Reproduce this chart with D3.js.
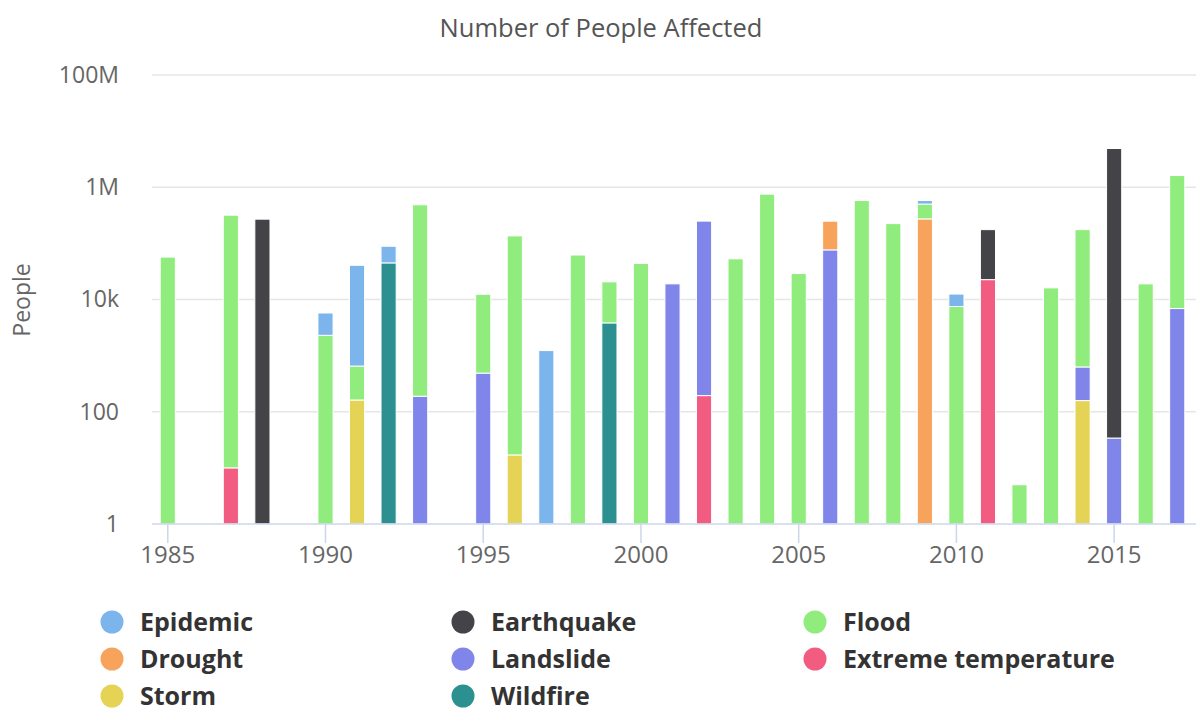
<!DOCTYPE html>
<meta charset="utf-8">
<style>
body { margin: 0; background: #fff; }
text { font-family: "Open Sans", sans-serif; }
</style>
<svg id="mysvg" width="1196" height="708"></svg>
<script src="https://cdn.jsdelivr.net/npm/d3@7/dist/d3.min.js"></script>
<script>

var svg = d3.select("#mysvg");

var years = d3.range(1985, 2018);
var yearTicks = [1985, 1990, 1995, 2000, 2005, 2010, 2015];
var peopleTicks = [1, 100, 10000, 1000000, 100000000];
var peopleTickLabels = ["1", "100", "10k", "1M", "100M"];

// series order = legend order; Highcharts stacks the first series on top
var seriesNames = ["Epidemic", "Earthquake", "Flood", "Drought", "Landslide", "Extreme temperature", "Storm", "Wildfire"];
var seriesColors = ["#7cb5ec", "#434348", "#90ed7d", "#f7a35c", "#8085e9", "#f15c80", "#e4d354", "#2b908f"];

// values per series as [year, people]
var epidemic = [[1990, 3450], [1991, 40000], [1992, 44000], [1997, 1230], [2009, 79000], [2010, 5000]];
var earthquake = [[1988, 270000], [2011, 153000], [2015, 4900000]];
var flood = [[1985, 57000], [1987, 318000], [1990, 2300], [1991, 490], [1993, 487000], [1995, 11900],
	[1996, 136000], [1998, 62000], [1999, 16800], [2000, 44000], [2003, 53000], [2004, 754000],
	[2005, 29000], [2007, 580000], [2008, 225000], [2009, 228000], [2010, 7500], [2012, 5],
	[2013, 16100], [2014, 175000], [2016, 19000], [2017, 1610000]];
var drought = [[2006, 172000], [2009, 273000]];
var landslide = [[1993, 189], [1995, 488], [2001, 19000], [2002, 249000], [2006, 76600], [2014, 470], [2015, 34], [2017, 6900]];
var extremeTemp = [[1987, 10], [2002, 194], [2011, 22600]];
var storm = [[1991, 162], [1996, 17], [2014, 158]];
var wildfire = [[1992, 44900], [1999, 3830]];

var seriesValues = [epidemic, earthquake, flood, drought, landslide, extremeTemp, storm, wildfire];

// build one row per year for d3.stack
var rows = years.map(function(yr){
	var r = { year: yr };
	seriesNames.forEach(function(name, i){
		var hit = seriesValues[i].find(function(p){ return p[0] === yr; });
		r[name] = hit ? hit[1] : 0;
	});
	return r;
});

var stackKeys = seriesNames.slice().reverse(); // bottom first
var stacked = d3.stack().keys(stackKeys)(rows);

var plotLeft = 152, plotRight = 1193, plotTop = 75, plotBottom = 524;

var x = d3.scaleBand()
	.domain(years)
	.range([plotLeft, plotRight])
	.paddingInner(0.52)
	.paddingOuter(0.26);

var y = d3.scaleLog()
	.domain([1, 1e8])
	.range([plotBottom, plotTop]);

function yv(v){ return y(Math.max(1, v)); }

// grid
svg.append("g").selectAll("line")
	.data(peopleTicks.slice(1))
	.enter().append("line")
	.attr("x1", plotLeft).attr("x2", 1196)
	.attr("y1", function(d){ return y(d); })
	.attr("y2", function(d){ return y(d); })
	.attr("stroke", "#e6e6e6")
	.attr("stroke-width", 1.5);

// bars
var color = d3.scaleOrdinal().domain(seriesNames).range(seriesColors);

svg.append("g").selectAll("g")
	.data(stacked)
	.enter().append("g")
	.attr("fill", function(d){ return color(d.key); })
	.selectAll("rect")
	.data(function(d){ return d.filter(function(s){ return s[1] - s[0] > 0; }); })
	.enter().append("rect")
	.attr("x", function(d){ return x(d.data.year); })
	.attr("width", x.bandwidth())
	.attr("y", function(d){ return yv(d[1]); })
	.attr("height", function(d){ return yv(d[0]) - yv(d[1]); })
	.attr("stroke", "#fff")
	.attr("stroke-width", 1);

// x axis
var xAxis = svg.append("g")
	.attr("transform", "translate(0," + plotBottom + ")")
	.call(d3.axisBottom(x).tickValues(yearTicks).tickSize(19).tickPadding(3).tickSizeOuter(0));
xAxis.select(".domain").attr("stroke", "#ccd6eb").attr("stroke-width", 1.5)
	.attr("d", "M" + plotLeft + ",0H1196");
xAxis.selectAll(".tick line").attr("stroke", "#ccd6eb").attr("stroke-width", 1.5);
xAxis.selectAll(".tick text").attr("fill", "#666").style("font-size", "24px")
	.style("font-family", "'Open Sans', sans-serif");

// y axis
var yAxis = svg.append("g")
	.attr("transform", "translate(" + plotLeft + ",0)")
	.call(d3.axisLeft(y).tickValues(peopleTicks).tickSize(0).tickPadding(33)
		.tickFormat(function(d, i){ return peopleTickLabels[i]; }));
yAxis.select(".domain").remove();
yAxis.selectAll(".tick text").attr("fill", "#666").style("font-size", "23px")
	.style("font-family", "'Open Sans', sans-serif");

// titles
svg.append("text")
	.attr("x", 601).attr("y", 37)
	.attr("text-anchor", "middle")
	.attr("fill", "#555")
	.style("font-size", "25.5px")
	.text("Number of People Affected");

svg.append("text")
	.attr("transform", "translate(30,300) rotate(-90)")
	.attr("text-anchor", "middle")
	.attr("fill", "#666")
	.style("font-size", "23px")
	.text("People");

// legend
var legendX = [112, 463, 815];
var legendY = [622, 659, 696];

var legend = svg.append("g").selectAll("g")
	.data(seriesNames)
	.enter().append("g")
	.attr("transform", function(d, i){ return "translate(" + legendX[i % 3] + "," + legendY[Math.floor(i / 3)] + ")"; });

legend.append("circle")
	.attr("r", 11.5)
	.attr("fill", function(d){ return color(d); });

legend.append("text")
	.attr("x", 28)
	.attr("dy", "0.36em")
	.attr("fill", "#333")
	.style("font-size", "25px")
	.style("font-weight", "bold")
	.text(function(d){ return d; });

</script>
